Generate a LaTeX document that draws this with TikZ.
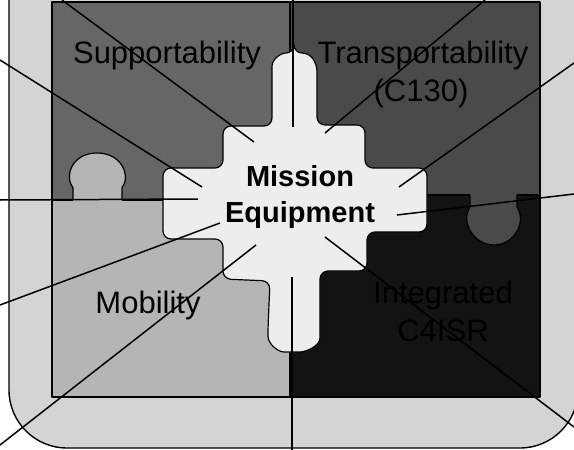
\documentclass[tikz,border=0pt]{standalone}
\usepackage{fontspec}
\setmainfont{Liberation Sans}
\definecolor{frameGray}{gray}{0.83}
\definecolor{supportGray}{gray}{0.40}
\definecolor{transportGray}{gray}{0.29}
\definecolor{mobilityGray}{gray}{0.71}
\definecolor{cfourBlack}{gray}{0.075}
\definecolor{missionWhite}{gray}{0.93}

\begin{document}
\begin{tikzpicture}[x=1pt, y=-1pt, line join=round,
    piece/.style={draw=black, line width=1.2pt},
    leader/.style={draw=black, line width=1.5pt},
    puzzletext/.style={font=\fontsize{31}{38}\selectfont, anchor=base, inner sep=0pt},
    missiontext/.style={font=\fontsize{29}{36}\selectfont\bfseries, anchor=base, inner sep=0pt}]

            \useasboundingbox (0,0) rectangle (574,450);
            \clip (0,0) rectangle (574,450);

            % outer frame
            \draw[fill=frameGray, line width=1.4pt, rounded corners=58pt] (9,-60) rectangle (578,448);

            % the four pieces
            \fill[supportGray] (52,2) rectangle (290,200);
            \fill[transportGray] (290,2) rectangle (540,195);
            \fill[mobilityGray] (52,200) rectangle (290,396);
            \fill[cfourBlack] (290,195) rectangle (540,397);

            % tabs
            \draw[piece, fill=mobilityGray] (73,200) -- (73,188) .. controls (64,176) and (72,153) .. (97,153)
                .. controls (122,153) and (131,176) .. (122,188) -- (122,200);
            \draw[piece, fill=transportGray] (470,195) -- (470,207) .. controls (460,222) and (474,245) .. (494,245)
                .. controls (514,245) and (527,222) .. (517,207) -- (517,195);

            % borders
            \draw[piece] (52,2) rectangle (540,397);
            \draw[piece] (52,200) -- (73,200);
            \draw[piece] (122,200) -- (170,200);
            \draw[piece] (420,195) -- (470,195);
            \draw[piece] (517,195) -- (540,195);
            \draw[piece] (290,2) -- (290,60);
            \draw[piece] (290,340) -- (290,397);

            % mission equipment
            \draw[piece, fill=missionWhite, rounded corners=8pt]
                (294,53) .. controls (311,53) and (317,62) .. (317,80)
                -- (317,125) -- (365,125) -- (365,168) -- (427,168) -- (427,232) -- (367,232)
                -- (367,271) -- (320,271) -- (320,330)
                .. controls (320,346) and (306,352) .. (292,352)
                .. controls (278,352) and (268,344) .. (268,328)
                -- (270,281) -- (223,279) -- (223,239) -- (163,239) -- (163,168) -- (223,168)
                -- (223,126) -- (272,126) -- (272,74)
                .. controls (272,60) and (280,53) .. (294,53) -- cycle;

            % labels
            \node[puzzletext] (supp) at (167,63) {Supportability};
            \node[puzzletext] (trans) at (423,63) {Transportability};
            \node[puzzletext] (cthirty) at (421,101) {(C130)};
            \node[puzzletext] (mob) at (148,313) {Mobility};
            \node[puzzletext] (integ) at (443,303) {Integrated};
            \node[puzzletext] (cfour) at (443,341) {C4ISR};
            \node[missiontext] (mission) at (300,186) {Mission};
            \node[missiontext] (equip) at (300,222) {Equipment};

            % leader lines
            \foreach \name/\inner/\outer in {a/{254,142}/{62,0}, b/{202,187}/{0,60}, c/{198,199}/{0,200},
                    d/{220,223}/{0,305}, e/{256,245}/{0,445}, f/{293,127}/{293,0},
                    g/{325,133}/{485,0}, h/{399,187}/{574,63}, i/{397,215}/{574,194},
                    j/{325,237}/{574,427}, k/{292,277}/{292,450}} {
                \coordinate (from\name) at (\inner);
                \coordinate (to\name) at (\outer);
                \draw[leader] (from\name) -- (to\name);
            }

\end{tikzpicture}
\end{document}
